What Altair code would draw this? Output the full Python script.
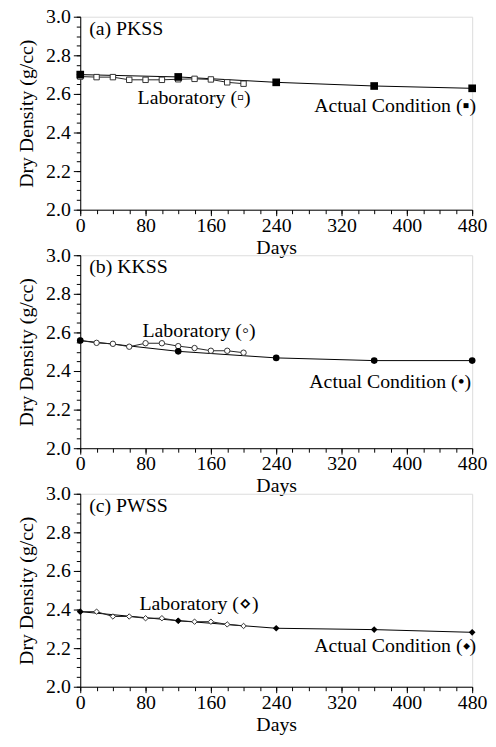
import altair as alt
import pandas as pd

days_lab = [0, 20, 40, 60, 80, 100, 120, 140, 160, 180, 200]
days_act = [0, 120, 240, 360, 480]

pkss_lab = [2.690, 2.687, 2.687, 2.673, 2.673, 2.673, 2.676, 2.678, 2.675, 2.660, 2.653]
pkss_act = [2.700, 2.688, 2.660, 2.641, 2.629]
kkss_lab = [2.558, 2.546, 2.541, 2.526, 2.544, 2.544, 2.529, 2.519, 2.505, 2.505, 2.495]
kkss_act = [2.558, 2.502, 2.468, 2.454, 2.454]
pwss_lab = [2.389, 2.389, 2.364, 2.364, 2.355, 2.355, 2.342, 2.337, 2.337, 2.323, 2.315]
pwss_act = [2.389, 2.342, 2.303, 2.296, 2.282]

panel_titles = ["(a) PKSS", "(b) KKSS", "(c) PWSS"]
lab_labels = ["Laboratory (\u25ab)", "Laboratory (\u25e6)", "Laboratory (\u22c4)"]
act_labels = ["Actual Condition (\u25aa)", "Actual Condition (\u2022)", "Actual Condition (\u2b29)"]
shapes = ["square", "circle", "diamond"]

x_major = [0, 80, 160, 240, 320, 400, 480]
x_minor = list(range(0, 481, 20))
y_major = [2.0, 2.2, 2.4, 2.6, 2.8, 3.0]
y_minor = [round(2.0 + 0.05 * i, 2) for i in range(21)]

FONT = "Liberation Serif"
W, H = 396, 195

xs = alt.Scale(domain=[0, 480], nice=False)
ys = alt.Scale(domain=[2.0, 3.0], nice=False)

ax_common = dict(domainColor="black", tickColor="black", labelColor="black",
                 titleColor="black", labelFont=FONT, titleFont=FONT,
                 labelFontSize=20, titleFontSize=20, titleFontWeight="normal",
                 grid=False, domainWidth=1, tickWidth=1)


def panel(i, lab, act, lab_px, act_px):
    dlab = pd.DataFrame({"d": days_lab, "v": lab})
    dact = pd.DataFrame({"d": days_act, "v": act})

    x_main = alt.X("d:Q", scale=xs, axis=alt.Axis(values=x_major, title="Days", tickSize=6,
                                                  labelPadding=0, titlePadding=2, format="d",
                                                  labelFlush=False, orient="bottom", **ax_common))
    y_main = alt.Y("v:Q", scale=ys, axis=alt.Axis(values=y_major, title="Dry Density (g/cc)",
                                                  tickSize=7, labelPadding=3, titlePadding=9,
                                                  format=".1f", labelFlush=False, orient="left",
                                                  **ax_common))
    x_min = alt.X("d:Q", scale=xs, axis=alt.Axis(values=x_minor, labels=False, title=None,
                                                 tickSize=4, domain=False, orient="bottom",
                                                 tickColor="black", grid=False))
    y_min = alt.Y("v:Q", scale=ys, axis=alt.Axis(values=y_minor, labels=False, title=None,
                                                 tickSize=4, domain=False, orient="left",
                                                 tickColor="black", grid=False))

    act_line = alt.Chart(dact).mark_line(color="black", strokeWidth=1).encode(x=x_main, y=y_main)
    lab_line = alt.Chart(dlab).mark_line(color="#222", strokeWidth=1).encode(x=x_min, y=y_min)
    lab_pts = alt.Chart(dlab).mark_point(shape=shapes[i], filled=True, fill="white",
                                         stroke="#333", strokeWidth=1, size=30,
                                         opacity=1).encode(x=alt.X("d:Q", axis=None),
                                                           y=alt.Y("v:Q", axis=None))
    act_pts = alt.Chart(dact).mark_point(shape=shapes[i], filled=True, color="black",
                                         size=60 if i == 0 else 45,
                                         opacity=1).encode(x=alt.X("d:Q", axis=None),
                                                           y=alt.Y("v:Q", axis=None))

    title_txt = alt.Chart(pd.DataFrame({"t": [panel_titles[i]]})).mark_text(
        font=FONT, fontSize=20, align="left", baseline="middle", color="black"
    ).encode(x=alt.value(9), y=alt.value(12), text="t:N")
    lab_txt = alt.Chart(pd.DataFrame({"t": [lab_labels[i]]})).mark_text(
        font=FONT, fontSize=20, align="center", baseline="middle", color="black"
    ).encode(x=alt.value(lab_px[0]), y=alt.value(lab_px[1]), text="t:N")
    act_txt = alt.Chart(pd.DataFrame({"t": [act_labels[i]]})).mark_text(
        font=FONT, fontSize=20, align="right", baseline="middle", color="black"
    ).encode(x=alt.value(act_px[0]), y=alt.value(act_px[1]), text="t:N")

    return alt.layer(act_line, lab_line, lab_pts, act_pts, title_txt, lab_txt, act_txt).resolve_axis(
        x="independent", y="independent"
    ).properties(width=W, height=H)


p1 = panel(0, pkss_lab, pkss_act, (115, 82), (400, 90))
p2 = panel(1, kkss_lab, kkss_act, (120, 77), (395, 128))
p3 = panel(2, pwss_lab, pwss_act, (120, 111), (400, 154))

chart = alt.vconcat(p1, p2, p3, spacing=46, bounds="flush").properties(
    padding={"left": 8, "top": -6, "right": 0, "bottom": 0}
).configure_view(stroke=None).configure(background="white")

chart.save("out.html", embed_options={"renderer": "svg", "actions": False})
